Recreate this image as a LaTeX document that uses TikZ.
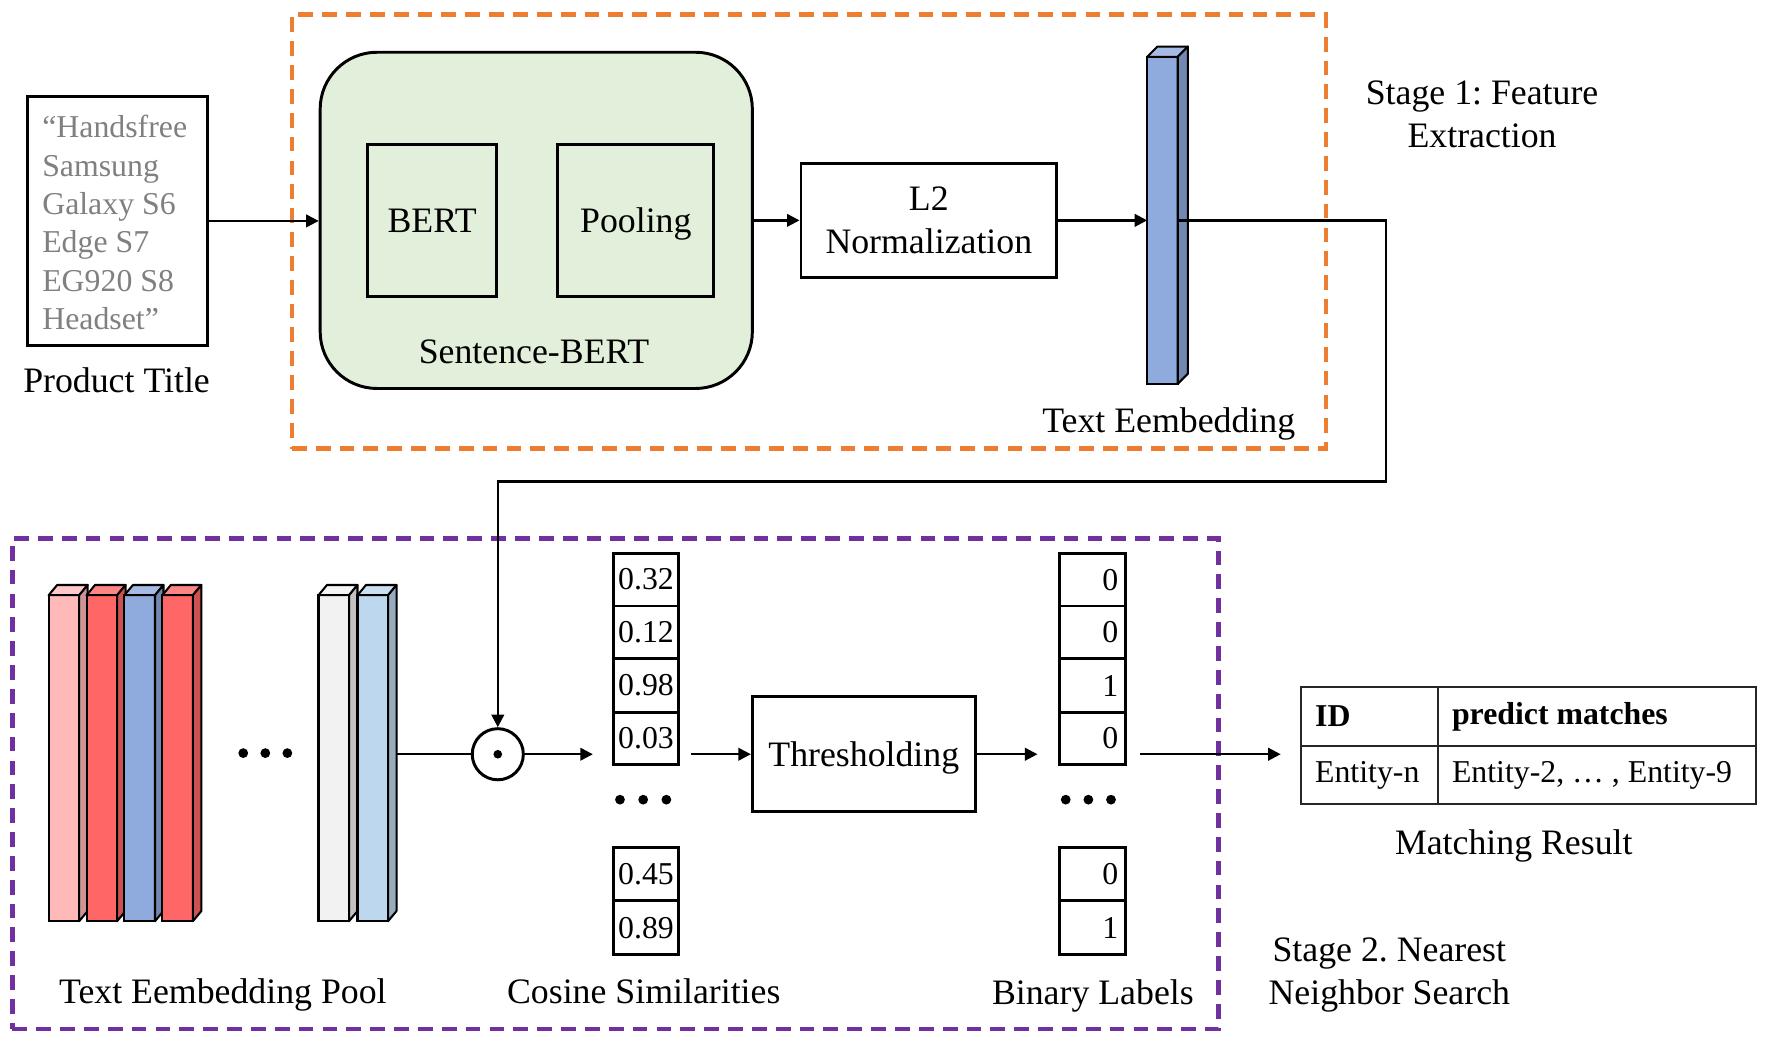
\documentclass[tikz,border=0pt]{standalone}
\usepackage{fontspec}
\setmainfont{Liberation Serif}
\usetikzlibrary{fit,arrows.meta}
\frenchspacing
\definecolor{orng}{HTML}{ED7D31}
\definecolor{purp}{HTML}{7030A0}
\definecolor{sbgreen}{HTML}{E2EFDA}
\definecolor{graytxt}{HTML}{808080}
\definecolor{tabline}{HTML}{262626}
\definecolor{pinkF}{HTML}{FFB9B9}\definecolor{pinkT}{HTML}{FFC7C7}\definecolor{pinkS}{HTML}{CC9494}
\definecolor{redF}{HTML}{FF6666}\definecolor{redT}{HTML}{FF8585}\definecolor{redS}{HTML}{CC5252}
\definecolor{blueF}{HTML}{8FAADC}\definecolor{blueT}{HTML}{A5BBE3}\definecolor{blueS}{HTML}{7288B0}
\definecolor{whiteF}{HTML}{F2F2F2}\definecolor{whiteT}{HTML}{F5F5F5}\definecolor{whiteS}{HTML}{C2C2C2}
\definecolor{lblueF}{HTML}{BDD7EE}\definecolor{lblueT}{HTML}{CADFF1}\definecolor{lblueS}{HTML}{97ACBE}
% name, x left, front top y, bottom y, width, dx, dy, colour prefix
\newcommand{\cubebar}[8]{%
  \node[barface, fill=#8F, fit={(#2,#3)(#2+#5,#4)}] (#1) {};
  \filldraw[barline, fill=#8T] (#1.north west) -- ++(#6,-#7) -- ++(#5,0) -- (#1.north east) -- cycle;
  \filldraw[barline, fill=#8S] (#1.north east) -- ++(#6,-#7) -- ++(0,#4-#3) -- (#1.south east) -- cycle;
}
\begin{document}
\begin{tikzpicture}[x=0.498pt, y=-0.5pt,
  every node/.style={inner sep=0pt},
  main/.style={font=\fontsize{15.75}{19}\selectfont},
  small/.style={font=\fontsize{14}{17}\selectfont},
  box/.style={draw, line width=1.3pt, inner sep=0pt},
  tcell/.style={draw=tabline, line width=1pt, inner sep=0pt},
  arr/.style={line width=1pt, -{Triangle[length=5.5pt,width=5.5pt]}},
  wire/.style={line width=1pt},
  stagebox/.style={draw, line width=2pt, dash pattern=on 6.5pt off 4pt, inner sep=0pt},
  barface/.style={draw, line width=0.9pt, inner sep=0pt, outer sep=0pt},
  barline/.style={draw, line width=0.9pt, line join=round},
  dotmark/.style={fill=black, circle, minimum size=4.3pt}
]
\fill[white] (0pt,0pt) rectangle (780pt,-457.8pt);
\useasboundingbox (0pt,0pt) rectangle (780pt,-457.8pt);

% stage frames
\node[stagebox, draw=orng, fit={(258,13)(1172,395)}] (stage1) {};
\node[stagebox, draw=purp, fit={(11,474)(1077,906)}] (stage2) {};

% ---------- Stage 1 ----------
\node[box, fit={(24,85)(183,304)}] (title) {};
\node[font=\fontsize{14}{16.85}\selectfont, text=graytxt, align=left, anchor=west] (ttext) at (37,196)
  {“Handsfree\\Samsung\\Galaxy S6\\Edge S7\\EG920 S8\\Headset”};
\node[main, anchor=base] (tlabel) at (103,345.5) {Product Title};

\node[box, fill=sbgreen, rounded corners=25pt, fit={(283,46)(665,342)}] (sbert) {};
\node[box, fit={(325,127)(439,261)}] (bert) {};
\node[main, anchor=base] (berttxt) at (bert.center |- 0,205) {BERT};
\node[box, fit={(493,127)(631,261)}] (pool) {};
\node[main, anchor=base] (pooltxt) at (pool.center |- 0,205) {Pooling};
\node[main, anchor=base] (sblabel) at (472,320) {Sentence-BERT};

\node[box, fit={(708,144)(934,244)}] (l2) {};
\node[main, align=center] (l2txt) at (l2.center) {L2\\Normalization};

\cubebar{emb}{1014}{50}{338}{27}{9}{9}{blue}
\node[main, anchor=base] (emblabel) at (1033,381) {Text Eembedding};
\node[main, align=center] (s1label) at (1310,101) {Stage 1: Feature\\Extraction};

\draw[arr] (title.east) -- (sbert.west |- title.east);
\draw[arr] (sbert.east |- l2.west) -- (l2.west);
\draw[arr] (l2.east) -- (emb.west |- l2.east);

% ---------- Stage 2 ----------
\cubebar{p1}{43}{524}{811}{27}{7.5}{9}{pink}
\cubebar{p2}{76.5}{524}{811}{27}{7.5}{9}{red}
\cubebar{p3}{110}{524}{811}{27}{7.5}{9}{blue}
\cubebar{p4}{143.5}{524}{811}{27}{7.5}{9}{red}
\cubebar{p5}{281.5}{524}{811}{27}{7.5}{9}{white}
\cubebar{p6}{316}{524}{811}{27}{7.5}{9}{lblue}
\node[dotmark] (pd1) at (215,663) {};
\node[dotmark] (pd2) at (234.5,663) {};
\node[dotmark] (pd3) at (254,663) {};
\node[main, anchor=base] (poollabel) at (197,883.5) {Text Eembedding Pool};

\node[draw, circle, line width=1.3pt, minimum size=22.5pt] (dot) at (440,664) {};
\fill (dot.center) circle[radius=1.9pt];

% cosine similarities
\node[box, fit={(542,487)(600,533.5)}] (c1) {};
\node[box, fit={(542,533.5)(600,580)}] (c2) {};
\node[box, fit={(542,580)(600,627)}] (c3) {};
\node[box, fit={(542,627)(600,673)}] (c4) {};
\node[box, fit={(542,746.5)(600,793)}] (c5) {};
\node[box, fit={(542,793)(600,840.5)}] (c6) {};
\node[small] at (c1.center) {0.32};
\node[small] at (c2.center) {0.12};
\node[small] at (c3.center) {0.98};
\node[small] at (c4.center) {0.03};
\node[small] at (c5.center) {0.45};
\node[small] at (c6.center) {0.89};
\node[dotmark] (cd1) at (548,704) {};
\node[dotmark] (cd2) at (568.5,704) {};
\node[dotmark] (cd3) at (589,704) {};
\node[main, anchor=base] (coslabel) at (569,883.5) {Cosine Similarities};

\node[box, fit={(665,613.5)(862,714.5)}] (thr) {};
\node[main, anchor=base] (thrtxt) at (thr.center |- 0,675) {Thresholding};

% binary labels
\node[box, fit={(936.5,487)(994.5,533.5)}] (b1) {};
\node[box, fit={(936.5,533.5)(994.5,580)}] (b2) {};
\node[box, fit={(936.5,580)(994.5,627)}] (b3) {};
\node[box, fit={(936.5,627)(994.5,673)}] (b4) {};
\node[box, fit={(936.5,746.5)(994.5,793)}] (b5) {};
\node[box, fit={(936.5,793)(994.5,840.5)}] (b6) {};
\node[small, anchor=east] at ([xshift=-3.5pt]b1.east) {0};
\node[small, anchor=east] at ([xshift=-3.5pt]b2.east) {0};
\node[small, anchor=east] at ([xshift=-3.5pt]b3.east) {1};
\node[small, anchor=east] at ([xshift=-3.5pt]b4.east) {0};
\node[small, anchor=east] at ([xshift=-3.5pt]b5.east) {0};
\node[small, anchor=east] at ([xshift=-3.5pt]b6.east) {1};
\node[dotmark] (bd1) at (942,704) {};
\node[dotmark] (bd2) at (962,704) {};
\node[dotmark] (bd3) at (982,704) {};
\node[main, anchor=base] (binlabel) at (966,884.5) {Binary Labels};

\node[main, align=center] (s2label) at (1228,858) {Stage 2. Nearest\\Neighbor Search};

% matching result table
\node[tcell, fit={(1150,605)(1271,656.5)}] (t11) {};
\node[tcell, fit={(1271,605)(1552,656.5)}] (t12) {};
\node[tcell, fit={(1150,656.5)(1271,708)}] (t21) {};
\node[tcell, fit={(1271,656.5)(1552,708)}] (t22) {};
\node[anchor=west, font=\fontsize{14}{17}\selectfont\bfseries] at ([xshift=6.5pt]t11.west) {ID};
\node[anchor=west, font=\fontsize{14}{17}\selectfont\bfseries] at ([xshift=6.5pt]t12.west) {predict matches};
\node[small, anchor=west] at ([xshift=6.5pt]t21.west) {Entity-n};
\node[small, anchor=west] at ([xshift=6.5pt]t22.west) {Entity-2, … , Entity-9};
\node[main, anchor=base] (mlabel) at (1338,752) {Matching Result};

% connectors
\coordinate (r1) at (1225,194);
\coordinate (r2) at (1225,424);
\coordinate (r3) at (440,424);
\draw[arr] (emb.east) -- (r1) -- (r2) -- (r3) -- (dot.north);
\draw[wire] ([xshift=3.75pt]p6.east |- dot.west) -- (dot.west);
\coordinate (cin) at (524,664);
\draw[arr] (dot.east) -- (cin);
\coordinate (cout) at (611,664);
\draw[arr] (cout) -- (thr.west |- cout);
\coordinate (bin) at (917,664);
\draw[arr] (thr.east |- bin) -- (bin);
\coordinate (bout) at (1008,664);
\coordinate (tin) at (1132,664);
\draw[arr] (bout) -- (tin);
\end{tikzpicture}
\end{document}
